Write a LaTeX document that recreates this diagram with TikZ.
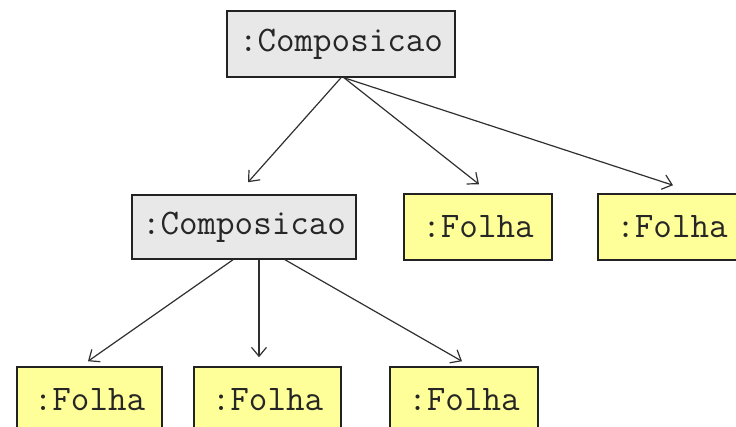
\documentclass[tikz,border=0pt]{standalone}
\usetikzlibrary{arrows.meta}
\definecolor{boxgray}{HTML}{E8E8E8}
\definecolor{boxyellow}{HTML}{FFFF99}
\definecolor{edge}{HTML}{222222}
\definecolor{arrowc}{HTML}{303030}
\begin{document}
\begin{tikzpicture}[x=1pt,y=-1pt,
  objbox/.style={draw=edge,line width=1.5pt,rectangle,inner sep=0pt,
    font=\ttfamily\fontsize{36}{40}\selectfont,text=black!85},
  compbox/.style={objbox,fill=boxgray},
  leafbox/.style={objbox,fill=boxyellow},
  arr/.style={draw=arrowc,line width=1.2pt,-{Straight Barb[length=9pt,width=15pt,line width=1.2pt]}}]
\useasboundingbox (0,0) rectangle (736,427);
\clip (0,0) rectangle (736,427);
\node[compbox,minimum width=228pt,minimum height=66pt] (top) at (341,44) {:Composicao};
\node[compbox,minimum width=224pt,minimum height=64pt] (mc) at (244,227) {:Composicao};
\node[leafbox,minimum width=148pt,minimum height=66pt] (mf1) at (478,227) {:Folha};
\node[leafbox,minimum width=148pt,minimum height=66pt] (mf2) at (672,227) {:Folha};
\node[leafbox,minimum width=145pt,minimum height=65pt] (bf1) at (89.5,399.5) {:Folha};
\node[leafbox,minimum width=147pt,minimum height=65pt] (bf2) at (267.5,399.5) {:Folha};
\node[leafbox,minimum width=148pt,minimum height=65pt] (bf3) at (464,399.5) {:Folha};
\draw[arr] ([xshift=0pt]top.south) -- ([xshift=4pt,yshift=12pt]mc.north);
\draw[arr] ([xshift=3pt]top.south) -- ([xshift=1pt,yshift=9pt]mf1.north);
\draw[arr] ([xshift=3pt]top.south) -- ([xshift=1pt,yshift=8pt]mf2.north);
\draw[arr] ([xshift=-11pt]mc.south) -- ([xshift=-1.5pt,yshift=5pt]bf1.north);
\draw[arr] ([xshift=15pt]mc.south) -- ([xshift=-8.5pt,yshift=9pt]bf2.north);
\draw[arr] ([xshift=41pt]mc.south) -- ([xshift=-2pt,yshift=5pt]bf3.north);
\end{tikzpicture}
\end{document}
